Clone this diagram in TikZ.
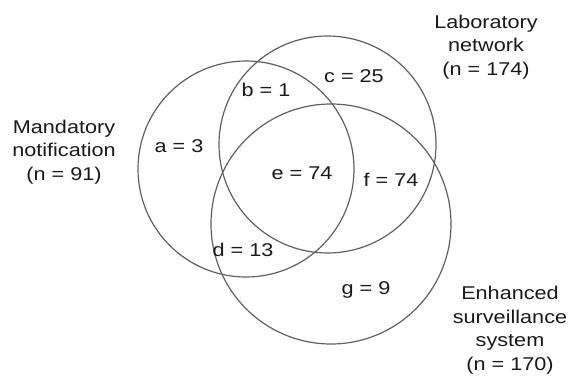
\documentclass[tikz,border=0pt]{standalone}
\usepackage{fontspec}
\setmainfont{Liberation Sans}[FakeStretch=1.17]
\usetikzlibrary{positioning}
\definecolor{ringgray}{RGB}{95,95,95}
\definecolor{textdark}{RGB}{25,25,25}
\tikzset{
  setring/.style={circle, draw=ringgray, line width=1.2pt, inner sep=0pt},
  count/.style={font=\fontsize{18.5}{22}\selectfont, text=textdark,
    inner sep=0pt, text height=13.2pt, text depth=0pt},
  setname/.style={font=\fontsize{18.5}{23.5}\selectfont, text=textdark,
    align=center, inner sep=0pt}
}

\begin{document}
\begin{tikzpicture}[x=1pt, y=-1pt]
  \useasboundingbox (0,0) rectangle (572,375);

  % Circles
  \node[setring, minimum size=216pt] (mandatory) at (246,169) {};
  \node[setring, minimum size=217pt] (lab) at (327.5,144.5) {};
  \node[setring, minimum size=240pt] (enhanced) at (331,224) {};

  % Set names
  \node[setname] (mandname) at (64,152) {Mandatory\\notification\\(n = 91)};
  \node[setname] (labname) at (486,47) {Laboratory\\network\\(n = 174)};
  \node[setname] (enhname) at (510,330) {Enhanced\\surveillance\\system\\(n = 170)};

  % Region counts
  \node[count] (a) at (179,146) {a = 3};
  \node[count] (b) at (266,90) {b = 1};
  \node[count] (c) at (354,76) {c = 25};
  \node[count] (d) at (243,250) {d = 13};
  \node[count] (e) at (302,173) {e = 74};
  \node[count] (f) at (391,180) {f = 74};
  \node[count] (g) at (366,288) {g = 9};
\end{tikzpicture}
\end{document}
